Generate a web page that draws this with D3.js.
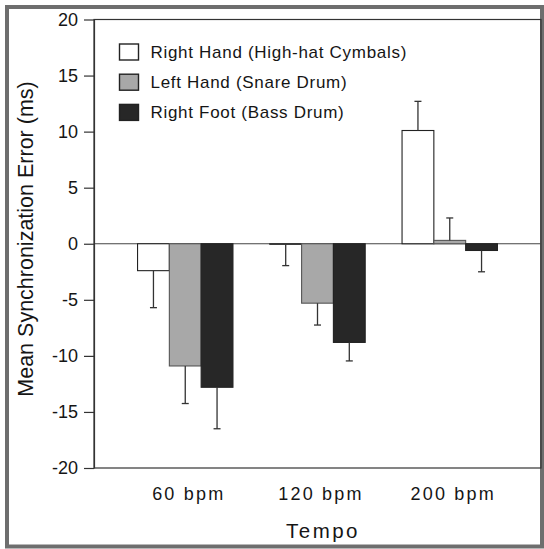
<!DOCTYPE html>
<html>
<head>
<meta charset="utf-8">
<script src="https://cdn.jsdelivr.net/npm/d3@7"></script>
<style>
  html, body { margin: 0; padding: 0; background: #ffffff; }
  svg { display: block; }
  text { font-family: "Liberation Sans", Arial, Helvetica, sans-serif; fill: #151515; }
</style>
</head>
<body>
<svg id="chart" width="544" height="549"></svg>
<script>
// ---- data ----
const categories = ["60 bpm", "120 bpm", "200 bpm"];
const seriesNames = ["Right Hand (High-hat Cymbals)", "Left Hand (Snare Drum)", "Right Foot (Bass Drum)"];
const rightHand = [-2.4, -0.05, 10.1];
const leftHand = [-10.9, -5.3, 0.3];
const rightFoot = [-12.8, -8.8, -0.6];
const rightHandErr = [3.3, 1.9, 2.6];
const leftHandErr = [3.35, 1.95, 2.0];
const rightFootErr = [3.7, 1.65, 1.9];
const yTicks = [-20, -15, -10, -5, 0, 5, 10, 15, 20];
const fills = ["#ffffff", "#a8a8a8", "#272727"];
const strokes = ["#222222", "#555555", "#222222"];

const seriesValues = [rightHand, leftHand, rightFoot];
const seriesErrors = [rightHandErr, leftHandErr, rightFootErr];

const rows = [];
categories.forEach((c, ci) => {
  seriesNames.forEach((s, si) => {
    rows.push({ cat: c, series: s, si: si, value: seriesValues[si][ci], err: seriesErrors[si][ci] });
  });
});

// ---- layout ----
const svg = d3.select("#chart");
const plotLeft = 94, plotRight = 541, plotTop = 19.5, plotBottom = 468;

const y = d3.scaleLinear().domain([-20, 20]).range([plotBottom, plotTop]);
const x = d3.scalePoint().domain(categories).range([plotLeft, plotRight]).padding(0.69);
const xs = d3.scaleBand().domain(seriesNames).range([-47.7, 47.7]).padding(0);

// outer frame
svg.append("rect")
  .attr("x", 7).attr("y", 7).attr("width", 535).attr("height", 539.5)
  .attr("fill", "none").attr("stroke", "#6e6e6e").attr("stroke-width", 4);

// plot frame (top/right/bottom)
svg.append("rect")
  .attr("x", plotLeft).attr("y", plotTop)
  .attr("width", plotRight - plotLeft).attr("height", plotBottom - plotTop)
  .attr("fill", "none").attr("stroke", "#333").attr("stroke-width", 1.2);

// zero line
svg.append("line")
  .attr("x1", plotLeft).attr("x2", plotRight)
  .attr("y1", y(0)).attr("y2", y(0))
  .attr("stroke", "#444").attr("stroke-width", 1.2);

// y axis
const yAxis = svg.append("g")
  .attr("transform", `translate(${plotLeft},0)`)
  .call(d3.axisLeft(y).tickValues(yTicks).tickSize(10).tickSizeOuter(0).tickPadding(6).tickFormat(d => String(d)));
yAxis.select(".domain").attr("stroke", "#333").attr("stroke-width", 1.2);
yAxis.selectAll(".tick line").attr("stroke", "#333").attr("stroke-width", 1.2);
yAxis.selectAll(".tick text")
  .attr("font-size", 18).attr("fill", "#151515")
  .style("font-family", "'Liberation Sans', Arial, sans-serif");

// x axis labels
const xAxis = svg.append("g")
  .attr("transform", `translate(0,${plotBottom})`)
  .call(d3.axisBottom(x).tickSize(0).tickPadding(19));
xAxis.select(".domain").remove();
xAxis.selectAll(".tick text")
  .attr("font-size", 18).attr("fill", "#151515")
  .attr("dx", 3)
  .style("letter-spacing", "2.2px")
  .style("font-family", "'Liberation Sans', Arial, sans-serif");

// bars
const bars = svg.append("g");
bars.selectAll("rect").data(rows).join("rect")
  .attr("x", d => x(d.cat) + xs(d.series))
  .attr("width", xs.bandwidth())
  .attr("y", d => y(Math.max(0, d.value)))
  .attr("height", d => Math.abs(y(d.value) - y(0)))
  .attr("fill", d => fills[d.si])
  .attr("stroke", d => strokes[d.si])
  .attr("stroke-width", 1.1);

// error bars (one-sided, away from zero)
const eb = svg.append("g").attr("stroke", "#333").attr("stroke-width", 1.3);
rows.forEach(d => {
  const cx = x(d.cat) + xs(d.series) + xs.bandwidth() / 2;
  const sign = d.value >= 0 ? 1 : -1;
  const end = d.value + sign * d.err;
  eb.append("line").attr("x1", cx).attr("x2", cx).attr("y1", y(d.value)).attr("y2", y(end));
  eb.append("line").attr("x1", cx - 3.5).attr("x2", cx + 3.5).attr("y1", y(end)).attr("y2", y(end));
});

// legend
const legend = svg.append("g");
seriesNames.forEach((s, i) => {
  const yy = 52 + i * 30.2;
  legend.append("rect")
    .attr("x", 119.5).attr("y", yy - 8).attr("width", 19).attr("height", 16)
    .attr("fill", fills[i]).attr("stroke", "#222").attr("stroke-width", 1.4);
  legend.append("text")
    .attr("x", 150.5).attr("y", yy + 6)
    .attr("font-size", 17).style("letter-spacing", "0.7px")
    .text(s);
});

// axis titles
svg.append("text")
  .attr("transform", `translate(33,239) rotate(-90)`)
  .attr("text-anchor", "middle")
  .attr("font-size", 21.5)
  .text("Mean Synchronization Error (ms)");

svg.append("text")
  .attr("x", 323).attr("y", 538)
  .attr("text-anchor", "middle")
  .attr("font-size", 20.5)
  .style("letter-spacing", "2.5px")
  .text("Tempo");
</script>
</body>
</html>
